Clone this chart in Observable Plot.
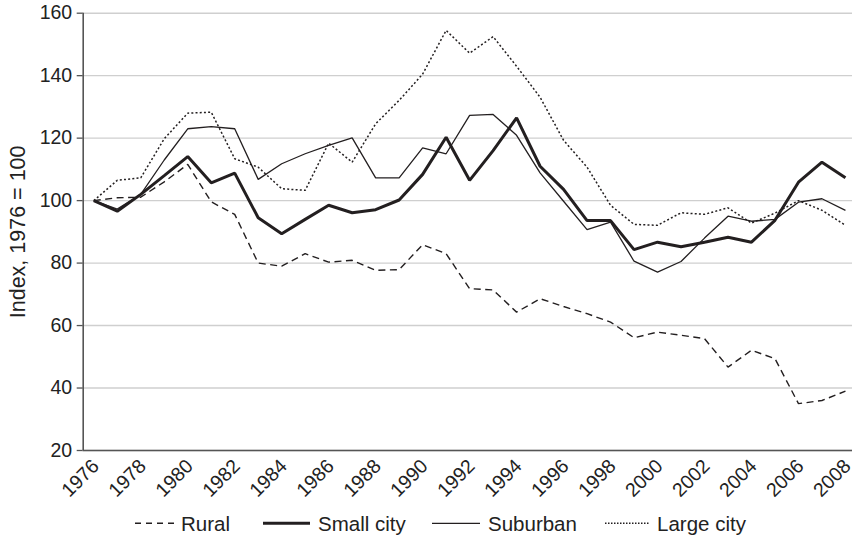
<!DOCTYPE html>
<html>
<head>
<meta charset="utf-8">
<script src="https://cdn.jsdelivr.net/npm/d3@7"></script>
<script src="https://cdn.jsdelivr.net/npm/@observablehq/plot@0.6"></script>
<style>
  body { margin: 0; background: #fff; font-family: "Liberation Sans", Arial, sans-serif; }
  svg { display: block; }
  #legend text { font-size: 20.5px; fill: #222; }
</style>
</head>
<body>
<div id="chart"></div>
<script>
const years = d3.range(1976, 2009);
const rural = [100, 100.9, 101.1, 106, 111.6, 99.6, 95.6, 80, 79, 83, 80.3, 80.9, 77.7, 77.9, 85.9, 83, 71.8, 71.4, 64.3, 68.6, 66.1, 63.8, 61.1, 56.1, 57.9, 56.9, 55.8, 46.7, 52.1, 49.4, 35, 36, 39];
const smallCity = [100, 96.6, 102, 108, 114.1, 105.7, 108.8, 94.5, 89.4, 94, 98.5, 96.1, 97.1, 100.2, 108.4, 120.3, 106.5, 116, 126.5, 111, 103.6, 93.6, 93.6, 84.3, 86.7, 85.2, 86.7, 88.3, 86.7, 93.7, 105.9, 112.3, 107.3];
const suburban = [100, 97.3, 102, 113, 123, 123.7, 123, 106.8, 111.8, 115, 117.7, 120.1, 107.3, 107.3, 116.9, 115, 127.3, 127.6, 120.9, 108.9, 99.8, 90.7, 93.1, 80.6, 77.1, 80.5, 88, 95, 93.4, 94, 99.5, 100.6, 96.9];
const largeCity = [100, 106.5, 107.3, 119.8, 128, 128.3, 113.4, 110.7, 103.8, 103.3, 118.4, 112.3, 124.6, 132.1, 140.5, 154.5, 147.2, 152.5, 143, 133.1, 119.3, 110.7, 98.5, 92.4, 92.1, 96.1, 95.6, 97.7, 92.8, 96, 100, 96.9, 92.1];
const seriesNames = ["Rural", "Small city", "Suburban", "Large city"];
const yTicks = [20, 40, 60, 80, 100, 120, 140, 160];
const xTicks = d3.range(1976, 2009, 2);
const yLabel = "Index, 1976 = 100";

const seriesValues = [rural, smallCity, suburban, largeCity];
const styles = {
  "Rural": {strokeWidth: 1.4, dash: "7,4.5"},
  "Small city": {strokeWidth: 3, dash: null},
  "Suburban": {strokeWidth: 1.3, dash: null},
  "Large city": {strokeWidth: 1.5, dash: "2,2.2"}
};
const table = seriesNames.flatMap((name, i) => years.map((y, j) => ({series: name, year: y, value: seriesValues[i][j]})));

const xMin = 1975.55, xMax = 2008.3;
const lineColor = "#231f20";
const textColor = "#222";

const marks = [
  Plot.gridY(yTicks, {stroke: "#cfcfcf", strokeOpacity: 1, strokeWidth: 1.4}),
  Plot.axisY(yTicks, {tickSize: 6, tickPadding: 5, fontSize: 19.5, label: null, stroke: "#555", strokeWidth: 1.3, fill: textColor}),
  Plot.text(xTicks, {x: d => d, text: d => String(d), frameAnchor: "bottom", rotate: -45, textAnchor: "end", lineAnchor: "middle", dx: 2, dy: 12.5, fontSize: 19.5, fill: textColor}),
  Plot.ruleX([xMin], {stroke: "#555", strokeWidth: 1.6}),
  Plot.ruleY([20], {stroke: "#555", strokeWidth: 1.6}),
  Plot.text([yLabel], {frameAnchor: "left", dx: -65, rotate: -90, textAnchor: "middle", lineAnchor: "middle", fontSize: 21.5, fill: textColor})
];
seriesNames.forEach(name => {
  const s = styles[name];
  marks.push(Plot.line(table.filter(d => d.series === name), {
    x: "year", y: "value", stroke: lineColor, strokeWidth: s.strokeWidth,
    strokeDasharray: s.dash, strokeLinejoin: "miter", strokeLinecap: "butt"
  }));
});

const chart = Plot.plot({
  width: 855,
  height: 500,
  marginLeft: 82.7,
  marginRight: 3,
  marginTop: 12.7,
  marginBottom: 50,
  style: {fontFamily: "'Liberation Sans', Arial, sans-serif", fontSize: "19.5px", color: textColor, background: "#fff", overflow: "visible"},
  x: {type: "linear", domain: [xMin, xMax], axis: null},
  y: {domain: [20, 160], axis: null},
  marks
});
document.getElementById("chart").appendChild(chart);

// Legend
const legendX = [{line: 135, len: 40, text: 181}, {line: 263, len: 47, text: 318}, {line: 432, len: 48, text: 488}, {line: 605, len: 45, text: 657}];
const lg = d3.create("svg").attr("id", "legend").attr("width", 855).attr("height", 36);
seriesNames.forEach((name, i) => {
  const s = styles[name];
  lg.append("line").attr("x1", legendX[i].line).attr("x2", legendX[i].line + legendX[i].len)
    .attr("y1", 23.3).attr("y2", 23.3).attr("stroke", lineColor).attr("stroke-width", s.strokeWidth)
    .attr("stroke-dasharray", name === "Large city" ? "1.5,1.5" : (name === "Rural" ? "6,5" : null));
  lg.append("text").attr("x", legendX[i].text).attr("y", 30.5).text(name);
});
document.getElementById("chart").appendChild(lg.node());
</script>
</body>
</html>
